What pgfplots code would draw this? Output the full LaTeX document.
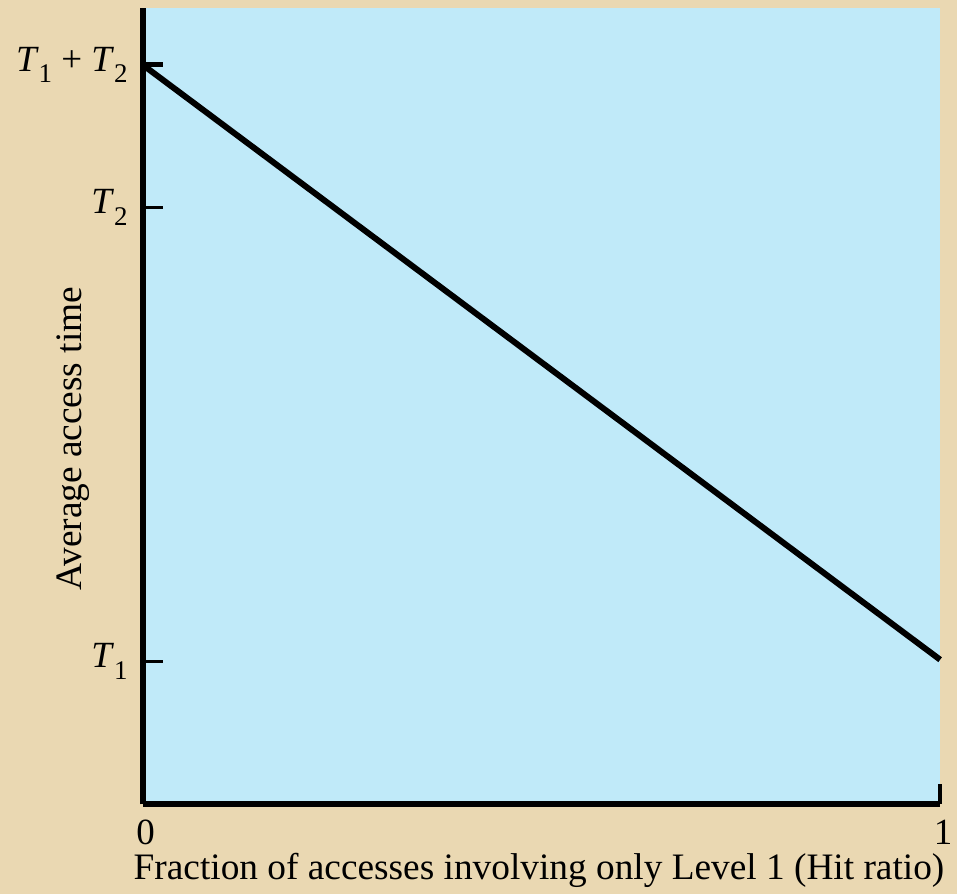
\documentclass[border=0pt]{standalone}
\usepackage{fontspec}
\setmainfont{Liberation Serif}
\usepackage{pgfplots}
\pgfplotsset{compat=1.18}
\definecolor{parch}{HTML}{EAD8B2}
\definecolor{skyb}{HTML}{C0EAF9}
\newcommand{\Tsub}[1]{\textit{T}\raisebox{-0.32em}{\fontsize{13.5}{14}\selectfont #1}}
\begin{document}
\begin{tikzpicture}
\fill[parch] (0,0) rectangle (479.5pt,448pt);
\begin{axis}[
  at={(71.5pt,45pt)}, anchor=south west,
  width=399.5pt, height=399pt, scale only axis,
  xmin=0, xmax=1, ymin=0, ymax=798,
  axis background/.style={fill=skyb},
  axis x line=bottom, axis y line=left,
  axis line style={line width=3pt, -},
  every inner x axis line/.append style={-},
  every inner y axis line/.append style={-},
  xtick={1}, extra x ticks={0}, extra x tick style={major tick length=0pt},
  xticklabels={1}, extra x tick labels={0},
  ytick={143,598},
  yticklabels={\Tsub{1}, \Tsub{2}},
  extra y ticks={741},
  extra y tick labels={\Tsub{1} + \Tsub{2}},
  extra y tick style={ytick style={line width=2.6pt, black}},
  tick align=inside,
  major tick length=10pt,
  ytick style={line width=1.5pt, black},
  xtick style={line width=2pt, black},
  tick label style={font=\fontsize{18.5}{20}\selectfont},
  xticklabel style={yshift=-4.5pt, xshift=1.5pt},
  yticklabel style={xshift=-4pt},
  label style={font=\fontsize{18.7}{20}\selectfont},
  xlabel={Fraction of accesses involving only Level 1 (Hit ratio)},
  xlabel style={at={(axis description cs:0.497,-0.0835)}, anchor=center},
  ylabel={Average access time},
  ylabel style={at={(axis description cs:-0.0876,0.459)}, anchor=center, rotate=0},
  clip=false,
]
\addplot[black, line width=3pt, line cap=butt] coordinates {(0,741) (1,145)};
\end{axis}
\end{tikzpicture}
\end{document}
